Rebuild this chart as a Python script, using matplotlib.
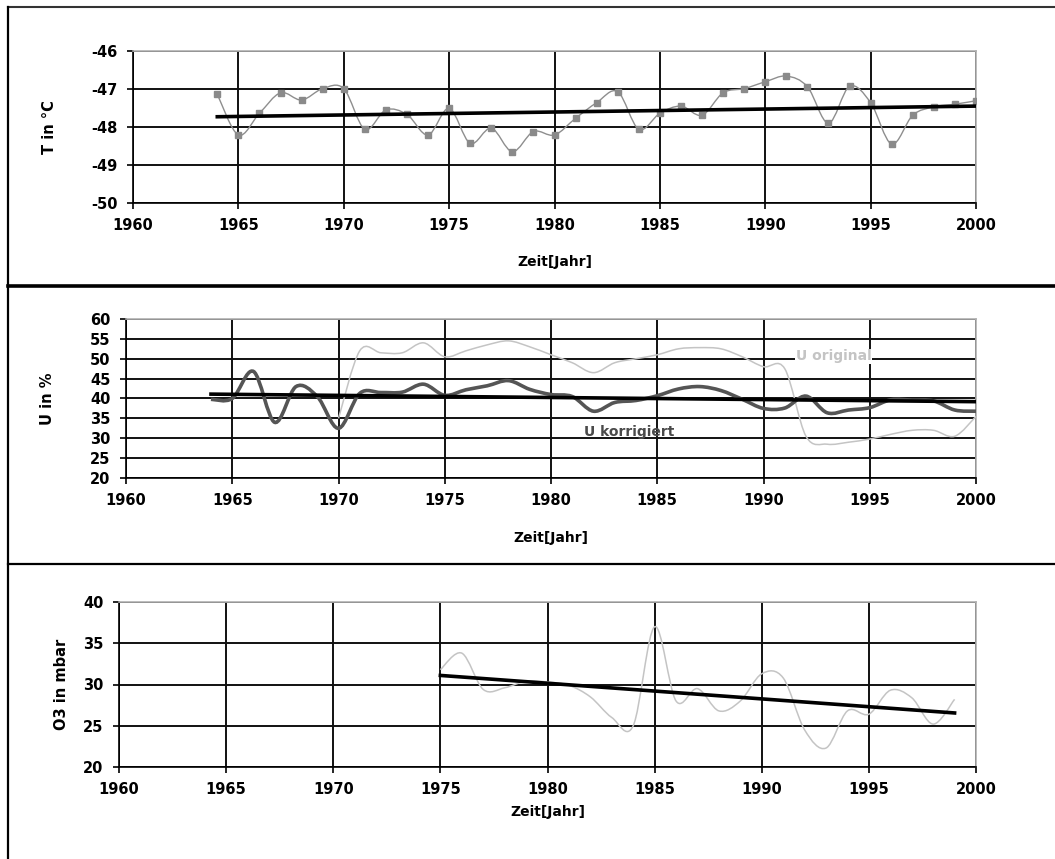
import numpy as np
import matplotlib
matplotlib.use("Agg")
import matplotlib.pyplot as plt
from matplotlib.path import Path
from matplotlib.patches import PathPatch
from matplotlib.lines import Line2D

# ---- data ----
t_years = list(range(1964, 2001))
t_vals = [-47.14, -48.21, -47.64, -47.10, -47.29, -46.99, -46.99, -48.06,
          -47.55, -47.67, -48.21, -47.51, -48.43, -48.03, -48.65, -48.12,
          -48.21, -47.77, -47.36, -47.07, -48.06, -47.64, -47.45, -47.69,
          -47.10, -46.99, -46.81, -46.66, -46.94, -47.90, -46.93, -47.36,
          -48.45, -47.69, -47.47, -47.40, -47.31]
t_trend_x = [1964, 2000]
t_trend_y = [-47.73, -47.45]

u_years = list(range(1964, 2001))
u_korr = [39.8, 40.0, 46.8, 34.0, 43.0, 40.5, 32.5, 41.3, 41.5, 41.6,
          43.6, 40.8, 42.2, 43.2, 44.5, 42.3, 41.0, 40.5, 36.8, 39.0,
          39.5, 40.7, 42.4, 43.0, 42.0, 39.8, 37.5, 37.6, 40.6, 36.4,
          37.1, 37.7, 39.7, 39.6, 39.4, 37.1, 36.8]
u_orig_years = list(range(1970, 2001))
u_orig = [35.0, 52.0, 51.5, 51.5, 54.0, 50.5, 52.0, 53.5, 54.5, 53.0,
          51.0, 49.0, 46.5, 49.0, 50.0, 51.0, 52.5, 52.8, 52.5, 50.5,
          48.0, 47.5, 30.5, 28.5, 29.0, 29.8, 31.0, 32.0, 32.0, 30.5, 35.5]
u_trend_x = [1964, 2000]
u_trend_y = [41.1, 39.2]

o3_years = list(range(1975, 2000))
o3_vals = [31.8, 33.8, 29.4, 29.6, 30.4, 30.3, 29.9, 28.5, 26.0, 25.0,
           37.0, 28.0, 29.5, 26.8, 28.0, 31.3, 30.8, 24.5, 22.3, 26.8,
           26.4, 29.3, 28.4, 25.2, 28.2]
o3_trend_x = [1975, 1999]
o3_trend_y = [31.1, 26.55]

W, H = 1055, 859
plt.rcParams['font.family'] = 'DejaVu Sans'
plt.rcParams['font.weight'] = 'bold'
plt.rcParams['axes.unicode_minus'] = False


def smooth_path(x, y):
    # Catmull-Rom style bezier, like a spreadsheet "smoothed line"
    p = np.column_stack([x, y]).astype(float)
    verts = [p[0]]
    codes = [Path.MOVETO]
    n = len(p)
    for i in range(n - 1):
        p0 = p[max(i - 1, 0)]
        p1 = p[i]
        p2 = p[i + 1]
        p3 = p[min(i + 2, n - 1)]
        c1 = p1 + (p2 - p0) / 6.0
        c2 = p2 - (p3 - p1) / 6.0
        verts += [c1, c2, p2]
        codes += [Path.CURVE4] * 3
    return Path(verts, codes)


def add_smooth(ax, x, y, **kw):
    patch = PathPatch(smooth_path(x, y), facecolor='none', **kw)
    ax.add_patch(patch)


def px_axes(left, top, right, bottom):
    return fig.add_axes([left / W, 1 - bottom / H,
                         (right - left) / W, (bottom - top) / H])


def style_axes(ax, yticks, ylabel, ylab_px, xlab_py, top, bottom, left, right):
    ax.set_xlim(1960, 2000)
    ax.set_xticks(range(1960, 2001, 5))
    ax.set_ylim(yticks[0], yticks[-1])
    ax.set_yticks(yticks)
    ax.grid(True, color='#111111', lw=1.4, zorder=0)
    ax.set_axisbelow(True)
    for s in ('top', 'right'):
        ax.spines[s].set_color('#b0b0b0')
        ax.spines[s].set_linewidth(1.2)
    for s in ('left', 'bottom'):
        ax.spines[s].set_color('black')
        ax.spines[s].set_linewidth(1.2)
    ax.tick_params(direction='out', length=4, width=1.2, pad=7,
                   labelsize=10.5)
    for lab in ax.get_xticklabels() + ax.get_yticklabels():
        lab.set_fontweight('bold')
    ax.set_ylabel(ylabel, fontsize=10.5, fontweight='bold')
    ax.yaxis.set_label_coords((ylab_px - left) / (right - left), 0.5)
    ax.set_xlabel('Zeit[Jahr]', fontsize=10, fontweight='bold')
    ax.xaxis.set_label_coords(0.5, -(xlab_py - bottom) / (bottom - top))
    ax.xaxis.label.set_va('center')
    ax.yaxis.label.set_va('center')


fig = plt.figure(figsize=(W / 100, H / 100), dpi=100)

# ---- temperature ----
ax1 = px_axes(133, 51, 976, 203)
add_smooth(ax1, t_years, t_vals, edgecolor='#8e8e8e', lw=1.0, zorder=3)
ax1.plot(t_years, t_vals, ls='none', marker='s', ms=4.5,
         color='#8a8a8a', zorder=4)
ax1.plot(t_trend_x, t_trend_y, color='black', lw=2.6, zorder=5)
style_axes(ax1, [-50, -49, -48, -47, -46], 'T in \u00b0C', 50, 262,
           51, 203, 133, 976)

# ---- humidity ----
ax2 = px_axes(126, 319, 976, 478)
add_smooth(ax2, u_orig_years, u_orig, edgecolor='#c4c4c4', lw=1.1, zorder=3)
add_smooth(ax2, u_years, u_korr, edgecolor='#555555', lw=2.6, zorder=4)
ax2.plot(u_trend_x, u_trend_y, color='black', lw=2.6, zorder=5)
ax2.text(1993.3, 50.6, 'U original', color='#c4c4c4', fontsize=10,
         fontweight='bold', ha='center', va='center', zorder=6,
         bbox=dict(facecolor='white', edgecolor='none', pad=0.5))
ax2.text(1983.7, 31.6, 'U korrigiert', color='#4a4a4a', fontsize=10,
         fontweight='bold', ha='center', va='center', zorder=6)
style_axes(ax2, list(range(20, 61, 5)), 'U in %', 48, 538,
           319, 478, 126, 976)

# ---- ozone ----
ax3 = px_axes(119, 602, 976, 767)
add_smooth(ax3, o3_years, o3_vals, edgecolor='#c4c4c4', lw=1.1, zorder=3)
ax3.plot(o3_trend_x, o3_trend_y, color='black', lw=2.6, zorder=5)
style_axes(ax3, [20, 25, 30, 35, 40], 'O3 in mbar', 62, 812,
           602, 767, 119, 976)

# frame and panel separators
def fig_line(x0, y0, x1, y1, lw, color='black'):
    fig.add_artist(Line2D([x0 / W, x1 / W], [1 - y0 / H, 1 - y1 / H],
                          lw=lw, color=color))

fig_line(8, 7, W, 7, 1.5, '#333333')
fig_line(8, 7, 8, H, 1.6)
fig_line(8, 286, W, 286, 2.6)
fig_line(8, 564, W, 564, 1.6)

fig.savefig('out.png', dpi=100)
